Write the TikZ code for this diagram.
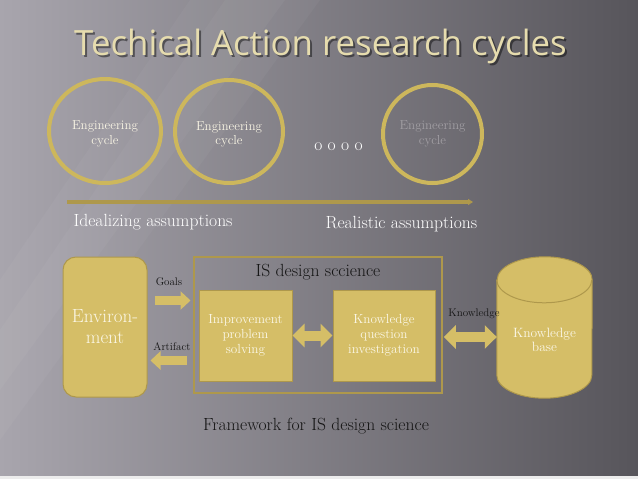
\documentclass[tikz,border=0pt]{standalone}
\usepackage{fontspec}
\newfontfamily\titlefont{Open Sans}
\usetikzlibrary{arrows.meta, shapes.geometric}

\definecolor{slidelight}{HTML}{A8A5AD}
\definecolor{slidemid}{HTML}{7C7A81}
\definecolor{slidedark}{HTML}{57555B}
\definecolor{gold}{HTML}{D5BE67}
\definecolor{goldedge}{HTML}{AE984C}
\definecolor{ring}{HTML}{CDB75C}
\definecolor{titlegold}{HTML}{E6DCAE}
\definecolor{paletext}{HTML}{FBF7E6}
\definecolor{fadetext}{HTML}{A29FA4}
\definecolor{darktext}{HTML}{151515}

\tikzset{
  cyclering/.style={ellipse, draw=ring, line width=4pt, inner sep=0pt},
  cycletext/.style={text=paletext, align=center, font=\fontsize{13}{14.5}\selectfont},
  block/.style={fill=gold, draw=goldedge, line width=1pt, text=paletext, align=center,
    font=\fontsize{13.2}{15}\selectfont, inner sep=0pt},
  note/.style={text=white, font=\fontsize{17.6}{20}\selectfont},
  tag/.style={text=darktext, font=\fontsize{11}{12}\selectfont},
  fat/.style={draw=gold, line width=9pt, -{Triangle[length=10pt,width=18pt]}},
  fatboth/.style={draw=gold, line width=10pt,
    {Triangle[length=12pt,width=23pt]}-{Triangle[length=12pt,width=23pt]}},
}

\begin{document}
\begin{tikzpicture}[x=1pt, y=-1pt]
\useasboundingbox (0,0) rectangle (638,479);
% slide background
\shade[left color=slidelight, middle color=slidemid, right color=slidedark] (0,0) rectangle (638,479);
\fill[white, opacity=0.035] (190,0) -- (320,0) -- (0,440) -- (0,280) -- cycle;
\fill[white, opacity=0.035] (225,0) -- (285,0) -- (0,390) -- (0,330) -- cycle;
\fill[white!85!gray] (0,476) rectangle (638,479);

% title
\node[anchor=base, text=black, opacity=0.45, font=\titlefont\fontsize{34.8}{40}\selectfont]
  (titleshadow) at (322.5,57) {Techical Action research cycles};
\node[anchor=base, text=titlegold, font=\titlefont\fontsize{34.8}{40}\selectfont]
  (title) at (320.5,55) {Techical Action research cycles};

% research cycles
\node[cyclering, minimum width=112pt, minimum height=104pt] (eng1) at (105,131) {};
\node[cyclering, minimum width=108pt, minimum height=103pt] (eng2) at (229,131.5) {};
\node[cyclering, minimum width=99pt, minimum height=98pt] (eng3) at (432.5,134) {};
\node[cycletext] (eng1text) at ([yshift=-3pt]eng1.center) {Engineering\\cycle};
\node[cycletext] (eng2text) at ([yshift=-3pt]eng2.center) {Engineering\\cycle};
\node[cycletext, text=fadetext] (eng3text) at (eng3.center) {Engineering\\cycle};
\node[note] (dots) at (338.5,147) {o o o o};

\coordinate (tl-start) at (67,202);
\coordinate (tl-end) at (473,202);
\draw[line width=3.5pt, draw=goldedge, -{Triangle[length=5pt,width=6pt]}] (tl-start) -- (tl-end);

\node[note, anchor=west] (ideal) at (70,222) {Idealizing assumptions};
\node[note, anchor=west] (real) at (322,224) {Realistic assumptions};

% framework
\node[block, rounded corners=13pt, minimum width=84pt, minimum height=140pt,
  font=\fontsize{19}{21}\selectfont] (env) at (105,327) {Environ-\\ment};
\node[draw=goldedge, line width=1.5pt, minimum width=248pt, minimum height=136pt] (isframe) at (318,325) {};
\node[note, text=darktext] (istitle) at (318,272) {IS design sccience};
\node[block, minimum width=93pt, minimum height=91pt] (improve) at (245.5,335.5) {Improvement\\problem\\solving};
\node[block, minimum width=102pt, minimum height=91pt] (kq) at (384,335.5) {Knowledge\\question\\investigation};

% knowledge base drum
\node[minimum width=95pt, minimum height=141pt, inner sep=0pt] (kbase) at (544.5,327.5) {};
\filldraw[fill=gold, draw=goldedge, line width=1pt]
  ([yshift=-23pt]kbase.north west) -- ([yshift=23pt]kbase.south west)
  arc[start angle=180, end angle=360, x radius=47.5pt, y radius=23pt]
  -- ([yshift=-23pt]kbase.north east)
  arc[start angle=0, end angle=180, x radius=47.5pt, y radius=23pt] -- cycle;
\draw[goldedge, line width=1pt] ([yshift=-23pt]kbase.north west)
  arc[start angle=180, end angle=360, x radius=47.5pt, y radius=23pt];
\node[text=paletext, align=center, font=\fontsize{13.5}{14.5}\selectfont] (kbasetext)
  at ([yshift=-12.5pt]kbase.center) {Knowledge\\base};

\node[tag] (goals) at (169,282) {Goals};
\node[tag] (artifact) at (172,347) {Artifact};
\node[tag] (knowledge) at (474,314) {Knowledge};

\draw[fat, shorten <=7pt, shorten >=8pt] ([yshift=26.5pt]env.east) -- ([yshift=26.5pt]env.east -| improve.west);
\draw[fat, shorten <=12pt, shorten >=3pt] ([yshift=-33.5pt]env.east -| improve.west) -- ([yshift=-33.5pt]env.east);
\draw[fatboth] (improve.east) -- (kq.west);
\draw[fatboth, shorten <=1pt] ([yshift=-12pt]isframe.east) -- ([yshift=-12pt]isframe.east -| kbase.west);

\node[note, text=darktext] (framework) at (316,426) {Framework for IS design science};
\end{tikzpicture}
\end{document}
